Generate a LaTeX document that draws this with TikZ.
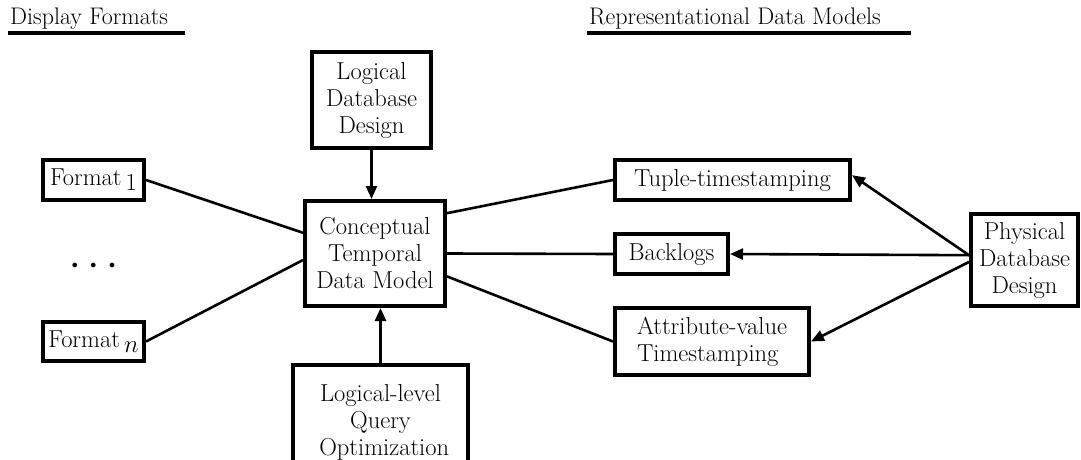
\documentclass[tikz,border=0pt]{standalone}
\usepackage{fontspec}
\usetikzlibrary{arrows.meta,calc}
\begin{document}
\begin{tikzpicture}[x=1pt,y=-1pt,
  box/.style={draw,line width=4pt,inner sep=0pt,align=center,font=\fontsize{24.5}{27}\selectfont},
  conn/.style={line width=2.6pt},
  arr/.style={line width=2.6pt,-{Triangle[length=13pt,width=11pt]}},
  hdr/.style={anchor=base west,inner sep=0pt,font=\fontsize{24}{27}\selectfont}]
\useasboundingbox (0,0) rectangle (1081,460);
% headers
\node[hdr] (h1) at (10,25) {Display Formats};
\coordinate (u1a) at (8,33); \coordinate (u1b) at (185,33);
\draw[line width=3.5pt] (u1a) -- (u1b);
\node[hdr] (h2) at (589,25) {Representational Data Models};
\coordinate (u2a) at (587,33); \coordinate (u2b) at (911,33);
\draw[line width=3.5pt] (u2a) -- (u2b);
% boxes
\node[box,minimum width=119pt,minimum height=96pt] (logdb) at (371.5,100) {Logical\\Database\\Design};
\node[box,minimum width=140pt,minimum height=105pt] (concept) at (375,253.5) {Conceptual\\Temporal\\Data Model};
\node[box,minimum width=175pt,minimum height=115pt,anchor=north] (logq) at (380.5,363) {Logical-level\\Query\\\ Optimization};
\node[box,minimum width=101pt,minimum height=40pt] (fmt1) at (93.5,180) {Format\,\raisebox{-5pt}{1}};
\node[box,minimum width=101pt,minimum height=39pt] (fmtn) at (93.5,341.5) {Format\,\raisebox{-5pt}{$n$}};
\node[inner sep=0pt,font=\fontsize{13}{13}\selectfont] (dots) at (93.5,266) {$\bullet\hspace{10pt}\bullet\hspace{10pt}\bullet$};
\node[box,minimum width=235pt,minimum height=40pt] (tuple) at (732.5,180) {Tuple-timestamping};
\node[box,minimum width=113pt,minimum height=40pt] (backlogs) at (671.5,254) {Backlogs};
\node[box,minimum width=194pt,minimum height=67pt,align=left] (attr) at (712,341.5) {Attribute-value\\Timestamping};
\node[box,minimum width=107pt,minimum height=92pt] (phys) at (1024.5,260) {Physical\\Database\\Design};
% connectors
\draw[conn] (fmt1.east) -- ($(concept.north west)!0.31!(concept.south west)$);
\draw[conn] (fmtn.east) -- ($(concept.north west)!0.56!(concept.south west)$);
\draw[conn] ($(concept.north east)!0.13!(concept.south east)$) -- (tuple.west);
\draw[conn] (concept.east) -- (backlogs.west);
\draw[conn] ($(concept.north east)!0.71!(concept.south east)$) -- (attr.west);
\draw[arr] (logdb.south) -- (logdb.south |- concept.north);
\draw[arr] (logq.north) -- (logq.north |- concept.south);
\draw[arr] ($(phys.north west)!0.45!(phys.south west)$) -- ($(tuple.north east)!0.39!(tuple.south east)$);
\draw[arr] ($(phys.north west)!0.45!(phys.south west)$) -- (backlogs.east);
\draw[arr] ($(phys.north west)!0.52!(phys.south west)$) -- (attr.east);
\end{tikzpicture}
\end{document}
